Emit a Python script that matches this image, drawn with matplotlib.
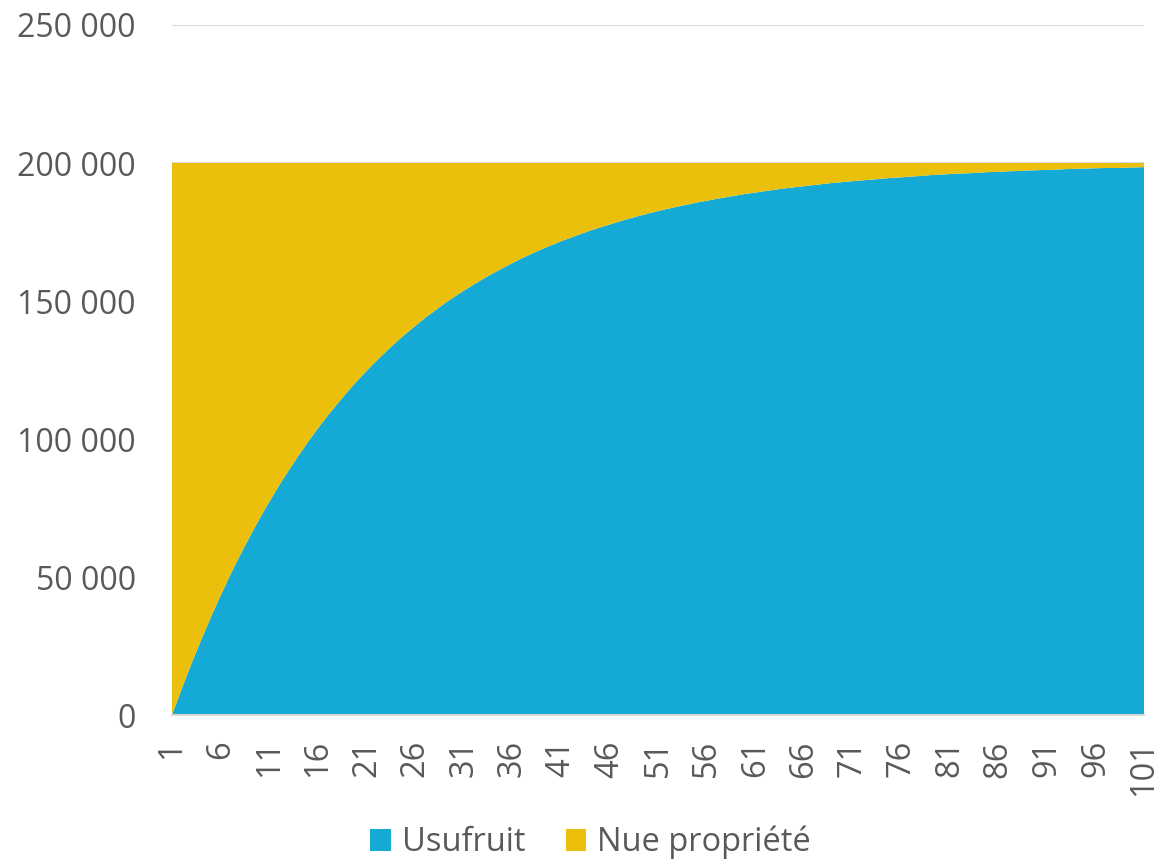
import matplotlib
matplotlib.use("Agg")
import matplotlib.pyplot as plt
from matplotlib.patches import Patch
from matplotlib.ticker import FuncFormatter

plt.rcParams['font.family'] = ['Open Sans', 'DejaVu Sans']

# Years 1..101
years = list(range(1, 102))

usufruit = [
    0, 9500, 18600, 27200, 35500, 43300, 50800, 57900, 64600, 71100,
    77200, 83100, 88600, 93900, 99000, 103800, 108400, 112700, 116900, 120900,
    124600, 128200, 131600, 134900, 138000, 140900, 143800, 146400, 149000, 151400,
    153700, 155900, 158000, 160000, 161900, 163700, 165500, 167100, 168700, 170200,
    171600, 172900, 174200, 175500, 176600, 177700, 178800, 179800, 180800, 181700,
    182600, 183400, 184200, 184900, 185700, 186300, 187000, 187600, 188200, 188800,
    189300, 189800, 190300, 190800, 191200, 191600, 192000, 192400, 192800, 193100,
    193400, 193700, 194000, 194300, 194600, 194800, 195100, 195300, 195600, 195800,
    196000, 196200, 196300, 196500, 196700, 196800, 197000, 197100, 197300, 197400,
    197500, 197600, 197800, 197900, 198000, 198100, 198200, 198200, 198300, 198400,
    198500,
]

nue_propriete = [
    200000, 190500, 181400, 172800, 164500, 156700, 149200, 142100, 135400, 128900,
    122800, 116900, 111400, 106100, 101000, 96200, 91600, 87300, 83100, 79100,
    75400, 71800, 68400, 65100, 62000, 59100, 56200, 53600, 51000, 48600,
    46300, 44100, 42000, 40000, 38100, 36300, 34500, 32900, 31300, 29800,
    28400, 27100, 25800, 24500, 23400, 22300, 21200, 20200, 19200, 18300,
    17400, 16600, 15800, 15100, 14300, 13700, 13000, 12400, 11800, 11200,
    10700, 10200, 9700, 9200, 8800, 8400, 8000, 7600, 7200, 6900,
    6600, 6300, 6000, 5700, 5400, 5200, 4900, 4700, 4400, 4200,
    4000, 3800, 3700, 3500, 3300, 3200, 3000, 2900, 2700, 2600,
    2500, 2400, 2200, 2100, 2000, 1900, 1800, 1800, 1700, 1600,
    1500,
]

series_names = ["Usufruit", "Nue propriété"]
series_colors = ["#14AAD5", "#EAC00C"]
x_ticks = list(range(1, 102, 5))
y_ticks = [0, 50000, 100000, 150000, 200000, 250000]

text_color = "#595959"
grid_color = "#D9D9D9"

fig = plt.figure(figsize=(11.63, 8.59), dpi=100)
ax = fig.add_axes([0.1479, 0.1676, 0.8358, 0.8033])

ax.stackplot(years, usufruit, nue_propriete, colors=series_colors,
             linewidth=0, zorder=2)

ax.set_xlim(years[0], years[-1])
ax.set_ylim(0, 250000)
ax.set_yticks(y_ticks)
ax.set_xticks(x_ticks)
ax.set_xticklabels([str(t) for t in x_ticks], rotation=90)
ax.yaxis.set_major_formatter(
    FuncFormatter(lambda v, p: f"{int(v):,}".replace(",", " ")))

ax.grid(axis="y", color=grid_color, linewidth=1.5, zorder=1)
ax.set_axisbelow(True)
for side in ("top", "right", "left"):
    ax.spines[side].set_visible(False)
ax.spines["bottom"].set_color(grid_color)
ax.spines["bottom"].set_linewidth(1.5)
ax.spines["bottom"].set_zorder(3)

ax.tick_params(axis="both", length=0, labelsize=23, labelcolor=text_color)
ax.tick_params(axis="x", labelsize=23.5, pad=18)
ax.tick_params(axis="y", pad=26)

handles = [Patch(facecolor=c, edgecolor="none", label=n)
           for n, c in zip(series_names, series_colors)]
fig.legend(handles=handles, loc="center", bbox_to_anchor=(0.508, 0.019),
           ncol=2, frameon=False, fontsize=23.5, labelcolor=text_color,
           handlelength=0.62, handleheight=0.62, handletextpad=0.34,
           columnspacing=1.25, borderpad=0.1)

fig.savefig("out.png", dpi=100)
